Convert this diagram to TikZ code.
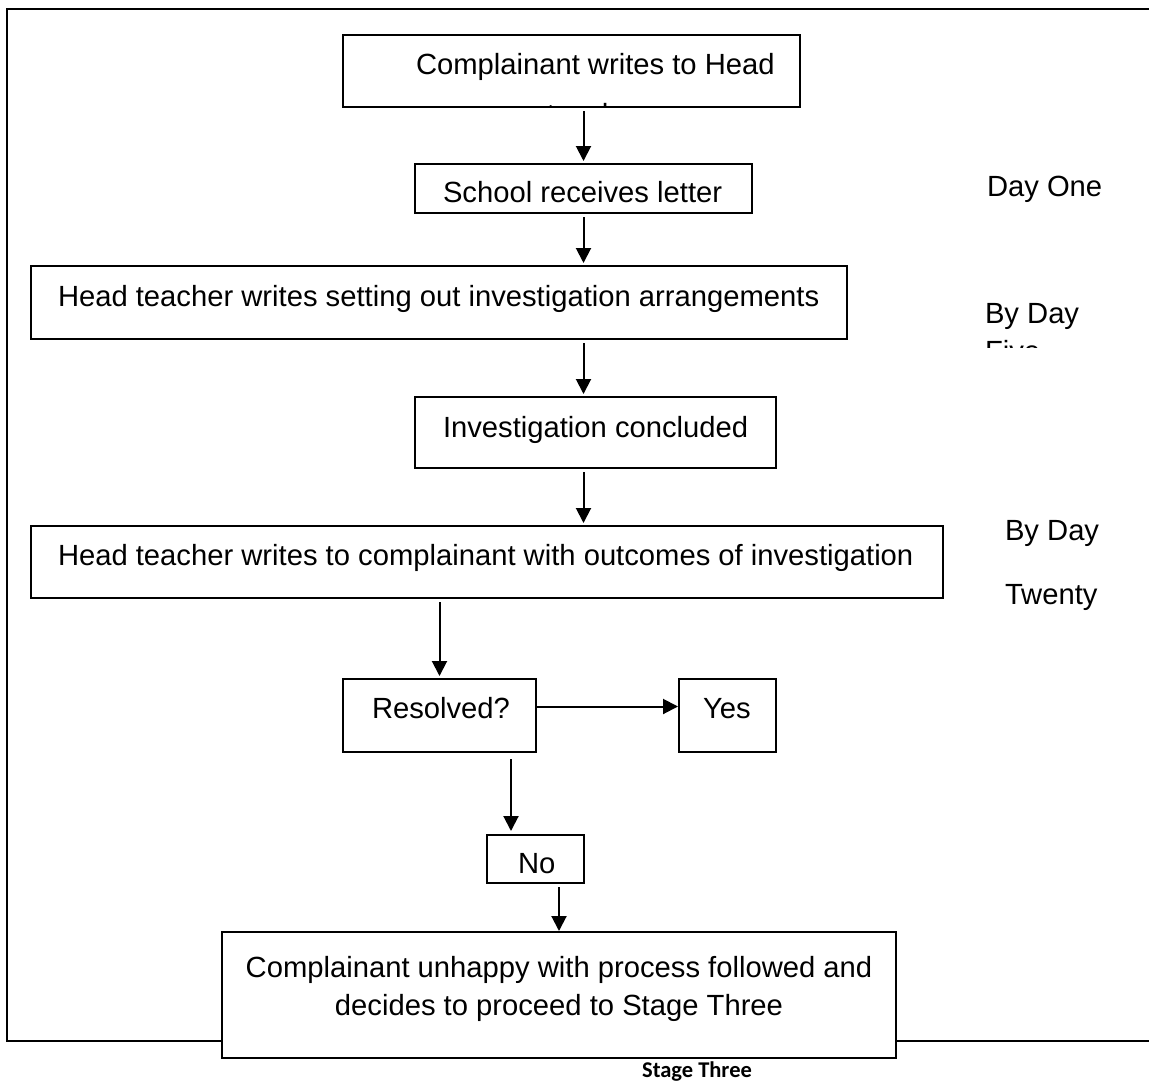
\documentclass[tikz,border=0pt]{standalone}
\usepackage{fontspec}
\setmainfont{Liberation Sans}
\newfontfamily\calib{Carlito}
\usetikzlibrary{arrows.meta}
\tikzset{
  box/.style={draw, line width=2pt, fill=white, inner sep=0pt, outer sep=0pt},
  txt/.style={inner sep=0pt, outer sep=0pt, anchor=base west, font=\fontsize{29.2}{35}\selectfont},
  ctxt/.style={txt, anchor=base},
  arr/.style={line width=2pt, -{Triangle[length=15pt,width=15pt]}, shorten <=4pt, shorten >=3pt},
  frame/.style={line width=2.4pt}
}
\begin{document}
\begin{tikzpicture}[x=1pt,y=-1pt]
\useasboundingbox (0,0) rectangle (1149,1084);
% outer frame
\draw[frame] (1149,9) -- (7,9) -- (7,1041) -- (1149,1041);
% boxes
\node[box, minimum width=457pt, minimum height=72pt] (b1) at (571.5,71) {};
\node[box, minimum width=337pt, minimum height=49pt] (b2) at (583.5,188.5) {};
\node[box, minimum width=816pt, minimum height=73pt] (b3) at (439,302.5) {};
\node[box, minimum width=361pt, minimum height=71pt] (b4) at (595.5,432.5) {};
\node[box, minimum width=912pt, minimum height=72pt] (b5) at (487,562) {};
\node[box, minimum width=193pt, minimum height=73pt] (res) at (439.5,715.5) {};
\node[box, minimum width=97pt, minimum height=73pt] (yes) at (727.5,715.5) {};
\node[box, minimum width=97pt, minimum height=48pt] (no) at (535.5,859) {};
\node[box, minimum width=674pt, minimum height=126pt] (fin) at (559,995) {};
% texts
\node[txt] (t1) at (416,74) {Complainant writes to Head};
\begin{scope}
  \clip (343,36) rectangle (800,106);
  \node[ctxt] (t1b) at (595.5,124) {teacher};
\end{scope}
\node[txt] (t2) at (443,202) {School receives letter};
\node[txt] (t3) at (58,306) {Head teacher writes setting out investigation arrangements};
\node[txt] (t4) at (443,437) {Investigation concluded};
\node[txt] (t5) at (58,565) {Head teacher writes to complainant with outcomes of investigation};
\node[txt] (tres) at (372,718) {Resolved?};
\node[txt] (tyes) at (703,718) {Yes};
\node[txt] (tno) at (518,873) {No};
\node[ctxt] (tf1) at (559,977) {Complainant unhappy with process followed and};
\node[ctxt] (tf2) at (559,1015) {decides to proceed to Stage Three};
% side notes
\node[txt] (d1) at (987,196) {Day One};
\node[txt] (d5a) at (985,323) {By Day};
\begin{scope}
  \clip (980,330) rectangle (1149,347);
  \node[txt] (d5b) at (985,361) {Five};
\end{scope}
\node[txt] (d20a) at (1005,540) {By Day};
\node[txt] (d20b) at (1005,604) {Twenty};
\node[anchor=base, inner sep=0pt, font=\calib\bfseries\fontsize{22.5}{27}\selectfont] (st) at (697,1077) {Stage Three};
% arrows
\draw[arr] (b2.north |- b1.south) -- (b2.north);
\draw[arr] (b2.south) -- (b2.south |- b3.north);
\draw[arr] (b2.south |- b3.south) -- (b2.south |- b4.north);
\draw[arr] (b2.south |- b4.south) -- (b2.south |- b5.north);
\draw[arr] (res.north |- b5.south) -- (res.north);
\draw[arr, shorten <=0pt, shorten >=1pt] ([yshift=9pt]res.east) -- ([yshift=9pt]yes.west);
\draw[arr, shorten <=7pt, shorten >=4pt] ([xshift=-24.5pt]no.north |- res.south) -- ([xshift=-24.5pt]no.north);
\draw[arr, shorten >=1pt] (fin.north |- no.south) -- (fin.north);
\end{tikzpicture}
\end{document}
